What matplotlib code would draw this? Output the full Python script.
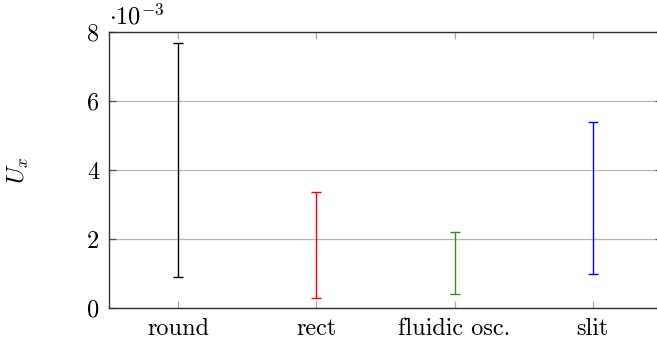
import matplotlib.pyplot as plt
import numpy as np

# Bereiche von U_x (in 1e-3)
categories = ['round', 'rect', 'fluidic osc.', 'slit']
lower = [0.90, 0.30, 0.41, 0.99]
upper = [7.68, 3.36, 2.19, 5.38]
colors = ['black', 'red', '#1f9a1f', 'blue']
yticks = [0, 2, 4, 6, 8]

plt.rcParams['font.family'] = 'serif'
plt.rcParams['font.serif'] = ['cmr10']
plt.rcParams['mathtext.fontset'] = 'cm'
plt.rcParams['axes.formatter.use_mathtext'] = True

fs = 17.5
fig = plt.figure(figsize=(6.57, 3.43), dpi=100)
ax = fig.add_axes([109 / 657, 1 - 308 / 343, 553 / 657, 276 / 343])

x = np.arange(len(categories))
for i in range(len(categories)):
    lo, hi = lower[i], upper[i]
    mid = (lo + hi) / 2
    ax.errorbar(x[i], mid, yerr=[[mid - lo], [hi - mid]], fmt='none',
                ecolor=colors[i], elinewidth=1.0, capsize=3.8, capthick=1.0)

ax.set_xlim(-0.5, 3.5)
ax.set_ylim(0, 8)
ax.set_xticks(x)
ax.set_xticklabels(categories, fontsize=fs)
ax.set_yticks(yticks)
ax.set_yticklabels([str(v) for v in yticks], fontsize=fs)

ax.grid(axis='y', color='#b4b4b4', linewidth=0.9)
ax.set_axisbelow(True)
ax.tick_params(axis='x', direction='in', length=5, width=0.9, color='#aaaaaa',
               top=True, pad=7)
ax.tick_params(axis='y', direction='in', length=5, width=0.9, color='#555555',
               right=True, pad=7)
for s in ax.spines.values():
    s.set_color('#333333')
    s.set_linewidth(1.0)

ax.set_ylabel('$U_x$', fontsize=fs, labelpad=40)
ax.text(0.0, 1 + 8 / 276, r'$\cdot 10^{-3}$', transform=ax.transAxes,
        fontsize=fs, ha='left', va='baseline')

fig.savefig('out.png', dpi=100)
